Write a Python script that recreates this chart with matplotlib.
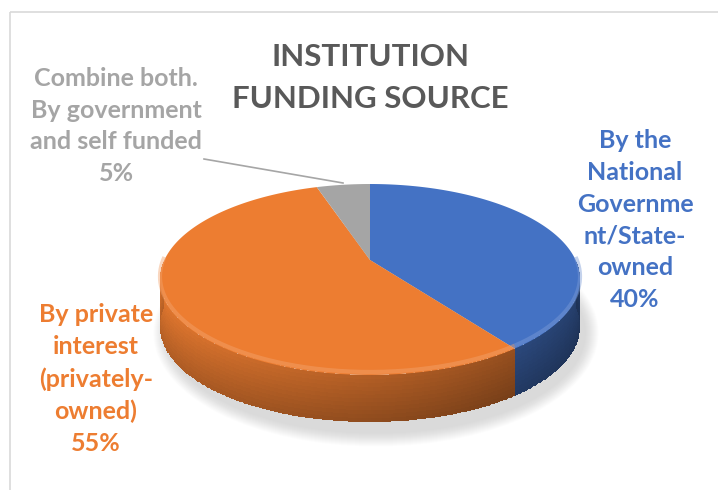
import numpy as np
import matplotlib.pyplot as plt
from matplotlib.transforms import Transform
from matplotlib.patches import Ellipse, Rectangle, Polygon
from matplotlib.colors import to_rgb

plt.rcParams['font.family'] = ['Lato', 'DejaVu Sans']

# data
labels = ["By the\nNational\nGovernme\nnt/State-\nowned",
          "By private\ninterest\n(privately-\nowned)",
          "Combine both.\nBy government\nand self funded"]
values = [40, 55, 5]
colors = ['#4472C4', '#ED7D31', '#A5A5A5']

# layout (pixel coords, y down)
W, H = 718, 490
cx, cy, rx, ry, tilt, depth = 370, 260, 205.6, 91.5, 0.204, 47
label_pos = [(635, 220), (96, 379), (116, 126)]


class TiltedDisc(Transform):
    """Unit disc -> pixel coords, seen from the front at an angle (simple perspective)."""
    input_dims = output_dims = 2

    def __init__(self, dy=0.0):
        super().__init__()
        self.dy = dy

    def transform_non_affine(self, xy):
        xy = np.asarray(xy, float)
        d = 1 + tilt * xy[:, 1]
        return np.column_stack([cx + rx * xy[:, 0] / d, cy + self.dy - ry * xy[:, 1] / d])


def rim(t, dy=0.0):
    t = np.radians(t)
    return TiltedDisc(dy).transform(np.column_stack([np.cos(t), np.sin(t)]))


fig = plt.figure(figsize=(W / 100, H / 100), dpi=100)
ax = fig.add_axes([0, 0, 1, 1])

wedges, _ = ax.pie(values, colors=colors, startangle=90, counterclock=False,
                   wedgeprops=dict(linewidth=0))
ax.set_aspect('auto')
ax.set_xlim(0, W)
ax.set_ylim(H, 0)
ax.axis('off')

disc = TiltedDisc() + ax.transData
slices = []
for w, c in zip(wedges, colors):
    t = np.radians(np.linspace(w.theta1, w.theta2, 240))
    pts = np.vstack([[0, 0], np.column_stack([np.cos(t), np.sin(t)])])
    ax.add_patch(Polygon(pts, closed=True, facecolor=c, lw=0, transform=disc, zorder=5))
    slices.append((w.theta1, w.theta2, c))
    w.remove()

# soft shadow under the disc
for k in range(14):
    ax.add_patch(Ellipse((cx + 6, cy + 20 + depth + 6), 2 * rx + 34 - 2 * k, 2 * ry + 44 - 2 * k,
                         facecolor='#808080', alpha=0.018, lw=0, zorder=1))

# side wall: darker towards the right and towards the bottom edge
for lo, hi, c in slices:
    lo, hi = max(lo, -180), min(hi, 0)
    if lo >= hi:
        continue
    t = np.linspace(lo, hi, int((hi - lo) * 2) + 2)
    p = rim(t)
    s = np.linspace(0, 1, 13)
    X = np.tile(p[:, 0], (len(s), 1))
    Y = p[:, 1][None, :] + depth * s[:, None]
    tm = (t[:-1] + t[1:]) / 2
    sm = (s[:-1] + s[1:]) / 2
    u = np.cos(np.radians(tm))
    f = (0.92 - 0.40 * (u + 1) / 2)[None, :] * (1.05 - 0.22 * sm)[:, None]
    rgb = np.clip(np.array(to_rgb(c))[None, None, :] * f[:, :, None], 0, 1)
    ax.pcolormesh(X, Y, rgb, shading='flat', antialiased=False, zorder=3)

# light bevel along the front of the top face
for lo, hi, c in slices:
    lo, hi = max(lo, -180), min(hi, 0)
    if lo < hi:
        p = rim(np.linspace(lo, hi, 200), -3)
        lite = tuple(np.array(to_rgb(c)) * 0.7 + 0.3)
        ax.plot(p[:, 0], p[:, 1], color=lite, lw=3, alpha=0.45, zorder=6,
                solid_capstyle='butt')

# frame
ax.add_patch(Rectangle((10, 12), W, H, fill=False, edgecolor='#D9D9D9', lw=1.2, zorder=0))

ax.text(370, 78, "INSTITUTION\nFUNDING SOURCE", ha='center', va='center', fontsize=22.5,
        fontweight='bold', color='#595959', linespacing=1.62)

total = sum(values)
for lab, v, c, (px, py) in zip(labels, values, colors, label_pos):
    ax.text(px, py, f"{lab}\n{v / total:.0%}", ha='center', va='center', fontsize=18,
            fontweight='bold', color=c, linespacing=1.47)

# leader line for the small slice
ax.plot([204, 343], [159, 183], color='#A6A6A6', lw=1.2, zorder=6)

ax.set_xlim(0, W)
ax.set_ylim(H, 0)
fig.savefig('out.png', dpi=100)
